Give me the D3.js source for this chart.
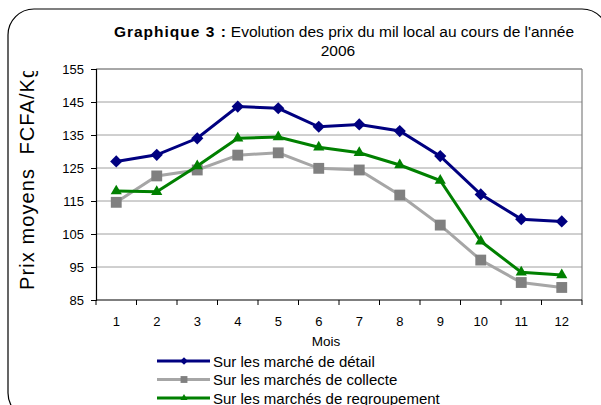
<!DOCTYPE html>
<html>
<head>
<meta charset="utf-8">
<script src="https://cdn.jsdelivr.net/npm/d3@7"></script>
<style>
  body { margin: 0; background: #fff; }
  text { font-family: "Liberation Sans", Arial, sans-serif; }
</style>
</head>
<body>
<script>
const w = 601;
const h = 405;
const months = [1, 2, 3, 4, 5, 6, 7, 8, 9, 10, 11, 12];
const detail = [127, 129, 134, 143.6, 143.1, 137.5, 138.2, 136.2, 128.6, 117, 109.5, 108.8];
const collecte = [114.6, 122.6, 124.4, 128.9, 129.6, 124.9, 124.4, 116.8, 107.7, 97.1, 90.3, 88.8];
const regroupement = [118, 117.8, 125.6, 134, 134.4, 131.3, 129.6, 125.9, 121.2, 102.8, 93.4, 92.6];
const yTicks = [85, 95, 105, 115, 125, 135, 145, 155];
const seriesNames = ["Sur les marché de détail", "Sur les marchés de collecte", "Sur les marchés de regroupement"];

const svg = d3.select("body").append("svg").attr("width", w).attr("height", h);

// outer rounded frame
svg.append("rect")
  .attr("x", 8).attr("y", 9).attr("width", 600).attr("height", 410)
  .attr("rx", 26).attr("ry", 26)
  .attr("fill", "none").attr("stroke", "#000").attr("stroke-width", 1.2);

const pLeft = 96, pRight = 582, pTop = 69, pBottom = 300;
const x = d3.scaleBand().domain(months).range([pLeft, pRight]);
const y = d3.scaleLinear().domain([85, 155]).range([pBottom, pTop]);

// gridlines
svg.selectAll("line.grid").data(yTicks.slice(1)).enter().append("line")
  .attr("x1", pLeft).attr("x2", pRight)
  .attr("y1", d => y(d)).attr("y2", d => y(d))
  .attr("stroke", "#a0a0a0").attr("stroke-width", 1);

// plot frame (top/right gray)
svg.append("line").attr("x1", pLeft).attr("x2", pRight).attr("y1", pTop).attr("y2", pTop)
  .attr("stroke", "#808080").attr("stroke-width", 1.2);
svg.append("line").attr("x1", pRight).attr("x2", pRight).attr("y1", pTop).attr("y2", pBottom)
  .attr("stroke", "#808080").attr("stroke-width", 1.2);

// y axis
const yAxis = svg.append("g").attr("transform", `translate(${pLeft},0)`)
  .call(d3.axisLeft(y).tickValues(yTicks).tickSize(5).tickPadding(7));
yAxis.select(".domain").attr("stroke", "#000").attr("stroke-width", 1.2);
yAxis.selectAll(".tick line").attr("stroke", "#000");
yAxis.selectAll("text").attr("font-size", 13).attr("fill", "#000")
  .attr("font-family", "Liberation Sans, Arial, sans-serif");

// x axis: labels centred, ticks at category boundaries
const xAxis = svg.append("g").attr("transform", `translate(0,${pBottom})`)
  .call(d3.axisBottom(x).tickSize(0).tickPadding(17));
xAxis.select(".domain").remove();
xAxis.selectAll("text").attr("font-size", 13).attr("fill", "#000")
  .attr("font-family", "Liberation Sans, Arial, sans-serif");
svg.append("line").attr("x1", pLeft).attr("x2", pRight).attr("y1", pBottom).attr("y2", pBottom)
  .attr("stroke", "#000").attr("stroke-width", 1.2);
const edges = months.map(m => x(m)).concat([pRight]);
svg.selectAll("line.xtick").data(edges).enter().append("line")
  .attr("x1", d => d).attr("x2", d => d).attr("y1", pBottom).attr("y2", pBottom + 5)
  .attr("stroke", "#000");

// axis titles
svg.append("text").attr("x", 326).attr("y", 346).attr("text-anchor", "middle")
  .attr("font-size", 13.5).text("Mois");

// y label is cut off at the top in the original
svg.append("clipPath").attr("id", "ylab").append("rect")
  .attr("x", 0).attr("y", 71).attr("width", 60).attr("height", 300);
svg.append("g").attr("clip-path", "url(#ylab)")
  .append("text")
  .attr("transform", "translate(34,290) rotate(-90)")
  .attr("font-size", 20).attr("letter-spacing", 1.1)
  .style("white-space", "pre")
  .text("Prix moyens  FCFA/Kg");

// title
const title = svg.append("text").attr("x", 344).attr("y", 37).attr("text-anchor", "middle")
  .attr("font-size", 15.5);
title.append("tspan").attr("font-weight", "bold").attr("letter-spacing", 1).text("Graphique 3 :");
title.append("tspan").attr("dx", 4).text("Evolution des prix du mil local au cours de l'année");
svg.append("text").attr("x", 338).attr("y", 56).attr("text-anchor", "middle")
  .attr("font-size", 15.5).text("2006");

// series
const series = [
  { name: seriesNames[0], values: detail, line: "#000080", fill: "#000080", sym: d3.symbolDiamond2, size: 95 },
  { name: seriesNames[1], values: collecte, line: "#a6a6a6", fill: "#808080", sym: d3.symbolSquare2, size: 150 },
  { name: seriesNames[2], values: regroupement, line: "#008000", fill: "#008000", sym: d3.symbolTriangle2, size: 90 }
];

const lineGen = d3.line().x((d, i) => x(months[i]) + x.bandwidth() / 2).y(d => y(d));

series.forEach(s => {
  svg.append("path").datum(s.values).attr("d", lineGen)
    .attr("fill", "none").attr("stroke", s.line).attr("stroke-width", 3);
  svg.selectAll(null).data(s.values).enter().append("path")
    .attr("d", d3.symbol().type(s.sym).size(s.size))
    .attr("transform", (d, i) => `translate(${x(months[i]) + x.bandwidth() / 2},${y(d)})`)
    .attr("fill", s.fill);
});

// legend
const lg = svg.selectAll("g.legend").data(series).enter().append("g")
  .attr("transform", (d, i) => `translate(157,${361 + i * 18.5})`);
lg.append("line").attr("x1", 0).attr("x2", 53).attr("y1", 0).attr("y2", 0)
  .attr("stroke", d => d.line).attr("stroke-width", 3);
lg.append("path").attr("transform", "translate(27,0)")
  .attr("d", d => d3.symbol().type(d.sym).size(d.size * 0.4)())
  .attr("fill", d => d.fill);
lg.append("text").attr("x", 56).attr("y", 5.5).attr("font-size", 15).text(d => d.name);
</script>
</body>
</html>
